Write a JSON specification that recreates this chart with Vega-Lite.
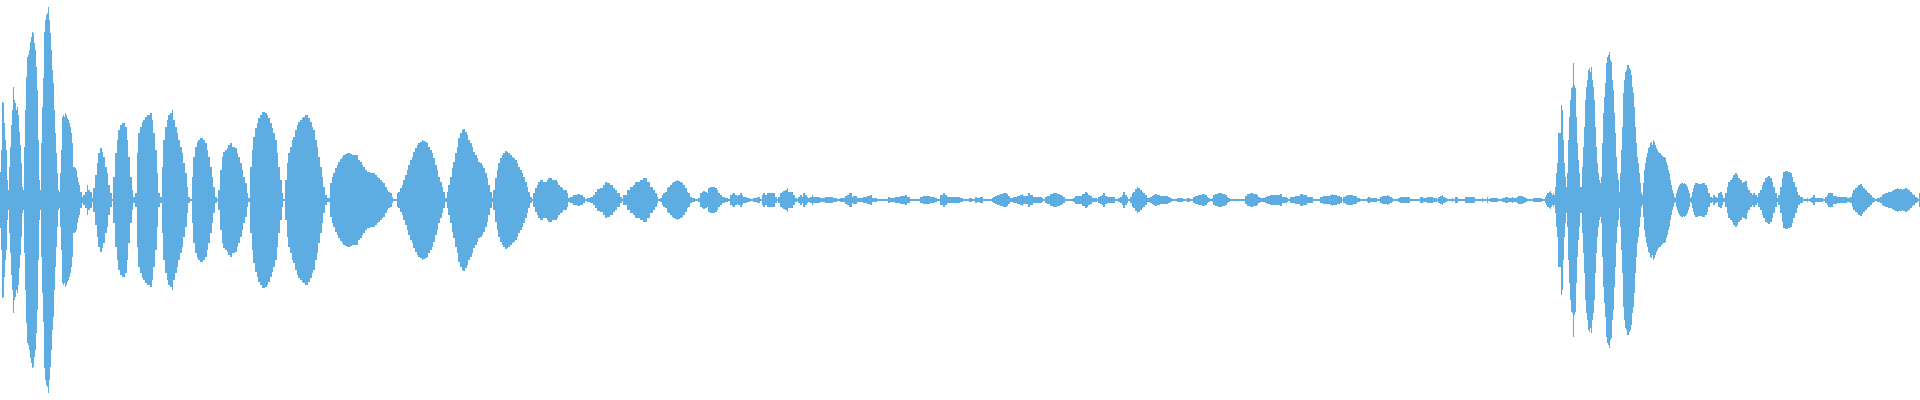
{
  "$schema": "https://vega.github.io/schema/vega-lite/v6.json",
  "width": 1920,
  "height": 400,
  "padding": 0,
  "autosize": {"type": "fit", "contains": "padding"},
  "background": "#ffffff",
  "config": {"view": {"stroke": null}},
  "data": {"values": [
{"x":0,"hi":28,"lo":-28},{"x":1,"hi":50,"lo":-50},{"x":2,"hi":98,"lo":-98},{"x":3,"hi":97,"lo":-97},{"x":4,"hi":77,"lo":-77},{"x":5,"hi":60,"lo":-60},{"x":6,"hi":50,"lo":-50},{"x":7,"hi":20,"lo":-20},{"x":8,"hi":10,"lo":-10},{"x":9,"hi":33,"lo":-33},
{"x":10,"hi":53,"lo":-53},{"x":11,"hi":75,"lo":-75},{"x":12,"hi":90,"lo":-90},{"x":13,"hi":113,"lo":-113},{"x":14,"hi":100,"lo":-100},{"x":15,"hi":97,"lo":-97},{"x":16,"hi":90,"lo":-90},{"x":17,"hi":93,"lo":-93},{"x":18,"hi":85,"lo":-85},{"x":19,"hi":68,"lo":-68},
{"x":20,"hi":55,"lo":-55},{"x":21,"hi":37,"lo":-37},{"x":22,"hi":13,"lo":-13},{"x":23,"hi":10,"lo":-10},{"x":24,"hi":53,"lo":-53},{"x":25,"hi":90,"lo":-90},{"x":26,"hi":123,"lo":-123},{"x":27,"hi":143,"lo":-143},{"x":28,"hi":145,"lo":-145},{"x":29,"hi":150,"lo":-150},
{"x":30,"hi":158,"lo":-158},{"x":31,"hi":163,"lo":-163},{"x":32,"hi":168,"lo":-168},{"x":33,"hi":167,"lo":-167},{"x":34,"hi":157,"lo":-157},{"x":35,"hi":150,"lo":-150},{"x":36,"hi":133,"lo":-133},{"x":37,"hi":110,"lo":-110},{"x":38,"hi":60,"lo":-60},{"x":39,"hi":20,"lo":-20},
{"x":40,"hi":10,"lo":-10},{"x":41,"hi":57,"lo":-57},{"x":42,"hi":93,"lo":-93},{"x":43,"hi":122,"lo":-122},{"x":44,"hi":168,"lo":-168},{"x":45,"hi":180,"lo":-180},{"x":46,"hi":185,"lo":-185},{"x":47,"hi":187,"lo":-187},{"x":48,"hi":193,"lo":-193},{"x":49,"hi":180,"lo":-180},
{"x":50,"hi":167,"lo":-167},{"x":51,"hi":150,"lo":-150},{"x":52,"hi":130,"lo":-130},{"x":53,"hi":117,"lo":-117},{"x":54,"hi":90,"lo":-90},{"x":55,"hi":67,"lo":-67},{"x":56,"hi":47,"lo":-47},{"x":57,"hi":27,"lo":-27},{"x":58,"hi":10,"lo":-10},{"x":59,"hi":8,"lo":-8},
{"x":60,"hi":27,"lo":-27},{"x":61,"hi":50,"lo":-50},{"x":62,"hi":83,"lo":-83},{"x":63,"hi":85,"lo":-85},{"x":64,"hi":83,"lo":-83},{"x":65,"hi":87,"lo":-87},{"x":66,"hi":85,"lo":-85},{"x":67,"hi":82,"lo":-82},{"x":68,"hi":80,"lo":-80},{"x":69,"hi":77,"lo":-77},
{"x":70,"hi":73,"lo":-73},{"x":71,"hi":67,"lo":-67},{"x":72,"hi":57,"lo":-57},{"x":73,"hi":33,"lo":-33},{"x":74,"hi":33,"lo":-33},{"x":75,"hi":32,"lo":-32},{"x":76,"hi":30,"lo":-30},{"x":77,"hi":23,"lo":-23},{"x":78,"hi":18,"lo":-18},{"x":79,"hi":15,"lo":-15},
{"x":80,"hi":8,"lo":-8},{"x":82,"hi":3,"lo":-3},{"x":83,"hi":5,"lo":-5},{"x":85,"hi":8,"lo":-8},{"x":87,"hi":15,"lo":-15},{"x":88,"hi":10,"lo":-10},{"x":90,"hi":8,"lo":-8},{"x":92,"hi":2,"lo":-2},{"x":93,"hi":12,"lo":-12},{"x":95,"hi":25,"lo":-25},
{"x":97,"hi":37,"lo":-37},{"x":98,"hi":47,"lo":-47},{"x":100,"hi":52,"lo":-52},{"x":102,"hi":48,"lo":-48},{"x":103,"hi":43,"lo":-43},{"x":105,"hi":33,"lo":-33},{"x":107,"hi":27,"lo":-27},{"x":108,"hi":15,"lo":-15},{"x":110,"hi":7,"lo":-7},{"x":112,"hi":1,"lo":-1},
{"x":113,"hi":23,"lo":-23},{"x":115,"hi":47,"lo":-47},{"x":117,"hi":60,"lo":-60},{"x":118,"hi":70,"lo":-70},{"x":120,"hi":75,"lo":-75},{"x":122,"hi":77,"lo":-77},{"x":123,"hi":77,"lo":-77},{"x":125,"hi":73,"lo":-73},{"x":127,"hi":60,"lo":-60},{"x":128,"hi":43,"lo":-43},
{"x":130,"hi":23,"lo":-23},{"x":132,"hi":10,"lo":-10},{"x":133,"hi":3,"lo":-3},{"x":135,"hi":7,"lo":-7},{"x":137,"hi":47,"lo":-47},{"x":138,"hi":67,"lo":-67},{"x":140,"hi":73,"lo":-73},{"x":142,"hi":78,"lo":-78},{"x":143,"hi":80,"lo":-80},{"x":145,"hi":83,"lo":-83},
{"x":147,"hi":85,"lo":-85},{"x":148,"hi":85,"lo":-85},{"x":150,"hi":87,"lo":-87},{"x":152,"hi":80,"lo":-80},{"x":153,"hi":67,"lo":-67},{"x":155,"hi":50,"lo":-50},{"x":157,"hi":27,"lo":-27},{"x":158,"hi":7,"lo":-7},{"x":160,"hi":3,"lo":-3},{"x":162,"hi":33,"lo":-33},
{"x":163,"hi":60,"lo":-60},{"x":165,"hi":73,"lo":-73},{"x":167,"hi":80,"lo":-80},{"x":168,"hi":85,"lo":-85},{"x":170,"hi":87,"lo":-87},{"x":172,"hi":90,"lo":-90},{"x":173,"hi":80,"lo":-80},{"x":175,"hi":73,"lo":-73},{"x":177,"hi":67,"lo":-67},{"x":178,"hi":60,"lo":-60},
{"x":180,"hi":53,"lo":-53},{"x":182,"hi":47,"lo":-47},{"x":183,"hi":37,"lo":-37},{"x":185,"hi":27,"lo":-27},{"x":187,"hi":13,"lo":-13},{"x":188,"hi":3,"lo":-3},{"x":190,"hi":1,"lo":-1},{"x":192,"hi":23,"lo":-23},{"x":193,"hi":43,"lo":-43},{"x":195,"hi":53,"lo":-53},
{"x":197,"hi":58,"lo":-58},{"x":198,"hi":60,"lo":-60},{"x":200,"hi":62,"lo":-62},{"x":202,"hi":62,"lo":-62},{"x":203,"hi":60,"lo":-60},{"x":205,"hi":57,"lo":-57},{"x":207,"hi":50,"lo":-50},{"x":208,"hi":43,"lo":-43},{"x":210,"hi":33,"lo":-33},{"x":212,"hi":23,"lo":-23},
{"x":213,"hi":13,"lo":-13},{"x":215,"hi":3,"lo":-3},{"x":217,"hi":1,"lo":-1},{"x":218,"hi":10,"lo":-10},{"x":220,"hi":30,"lo":-30},{"x":222,"hi":43,"lo":-43},{"x":223,"hi":48,"lo":-48},{"x":225,"hi":50,"lo":-50},{"x":227,"hi":52,"lo":-52},{"x":228,"hi":55,"lo":-55},
{"x":230,"hi":57,"lo":-57},{"x":232,"hi":53,"lo":-53},{"x":233,"hi":53,"lo":-53},{"x":235,"hi":52,"lo":-52},{"x":237,"hi":47,"lo":-47},{"x":238,"hi":43,"lo":-43},{"x":240,"hi":37,"lo":-37},{"x":242,"hi":30,"lo":-30},{"x":243,"hi":23,"lo":-23},{"x":245,"hi":17,"lo":-17},
{"x":247,"hi":7,"lo":-7},{"x":248,"hi":2,"lo":-2},{"x":250,"hi":33,"lo":-33},{"x":252,"hi":50,"lo":-50},{"x":253,"hi":63,"lo":-63},{"x":255,"hi":72,"lo":-72},{"x":257,"hi":77,"lo":-77},{"x":258,"hi":82,"lo":-82},{"x":260,"hi":85,"lo":-85},{"x":262,"hi":88,"lo":-88},
{"x":263,"hi":88,"lo":-88},{"x":265,"hi":87,"lo":-87},{"x":267,"hi":85,"lo":-85},{"x":268,"hi":82,"lo":-82},{"x":270,"hi":77,"lo":-77},{"x":272,"hi":72,"lo":-72},{"x":273,"hi":67,"lo":-67},{"x":275,"hi":60,"lo":-60},{"x":277,"hi":47,"lo":-47},{"x":278,"hi":33,"lo":-33},
{"x":280,"hi":20,"lo":-20},{"x":282,"hi":7,"lo":-7},{"x":283,"hi":1,"lo":-1},{"x":285,"hi":20,"lo":-20},{"x":287,"hi":37,"lo":-37},{"x":288,"hi":47,"lo":-47},{"x":290,"hi":53,"lo":-53},{"x":292,"hi":60,"lo":-60},{"x":293,"hi":63,"lo":-63},{"x":295,"hi":70,"lo":-70},
{"x":297,"hi":75,"lo":-75},{"x":298,"hi":78,"lo":-78},{"x":300,"hi":80,"lo":-80},{"x":302,"hi":82,"lo":-82},{"x":303,"hi":83,"lo":-83},{"x":305,"hi":85,"lo":-85},{"x":307,"hi":85,"lo":-85},{"x":308,"hi":82,"lo":-82},{"x":310,"hi":78,"lo":-78},{"x":312,"hi":73,"lo":-73},
{"x":313,"hi":70,"lo":-70},{"x":315,"hi":60,"lo":-60},{"x":317,"hi":53,"lo":-53},{"x":318,"hi":43,"lo":-43},
{"x":320,"hi":33,"lo":-33},{"x":322,"hi":23,"lo":-23},{"x":323,"hi":13,"lo":-13},{"x":325,"hi":5,"lo":-5},{"x":327,"hi":2,"lo":-2},{"x":328,"hi":2,"lo":-2},{"x":330,"hi":17,"lo":-17},{"x":332,"hi":23,"lo":-23},{"x":333,"hi":27,"lo":-27},{"x":335,"hi":32,"lo":-32},
{"x":337,"hi":35,"lo":-35},{"x":338,"hi":38,"lo":-38},{"x":340,"hi":41,"lo":-41},{"x":342,"hi":43,"lo":-43},{"x":343,"hi":45,"lo":-45},{"x":345,"hi":46,"lo":-46},{"x":347,"hi":47,"lo":-47},{"x":348,"hi":47,"lo":-47},{"x":350,"hi":46,"lo":-46},{"x":352,"hi":45,"lo":-45},
{"x":353,"hi":45,"lo":-45},{"x":355,"hi":45,"lo":-45},{"x":357,"hi":45,"lo":-45},{"x":358,"hi":40,"lo":-40},{"x":360,"hi":38,"lo":-38},{"x":362,"hi":35,"lo":-35},{"x":363,"hi":33,"lo":-33},{"x":365,"hi":30,"lo":-30},{"x":367,"hi":28,"lo":-28},{"x":368,"hi":28,"lo":-28},
{"x":370,"hi":27,"lo":-27},{"x":372,"hi":27,"lo":-27},{"x":373,"hi":27,"lo":-27},{"x":375,"hi":25,"lo":-25},{"x":377,"hi":23,"lo":-23},{"x":378,"hi":22,"lo":-22},{"x":380,"hi":20,"lo":-20},{"x":382,"hi":18,"lo":-18},{"x":383,"hi":17,"lo":-17},{"x":385,"hi":13,"lo":-13},
{"x":387,"hi":10,"lo":-10},{"x":388,"hi":8,"lo":-8},{"x":390,"hi":7,"lo":-7},{"x":392,"hi":3,"lo":-3},{"x":393,"hi":1,"lo":-1},{"x":395,"hi":1,"lo":-1},{"x":397,"hi":7,"lo":-7},{"x":398,"hi":8,"lo":-8},{"x":400,"hi":12,"lo":-12},{"x":402,"hi":15,"lo":-15},
{"x":403,"hi":20,"lo":-20},{"x":405,"hi":25,"lo":-25},{"x":407,"hi":30,"lo":-30},{"x":408,"hi":35,"lo":-35},{"x":410,"hi":40,"lo":-40},{"x":412,"hi":43,"lo":-43},{"x":413,"hi":48,"lo":-48},{"x":415,"hi":52,"lo":-52},{"x":417,"hi":55,"lo":-55},{"x":418,"hi":57,"lo":-57},
{"x":420,"hi":58,"lo":-58},{"x":422,"hi":60,"lo":-60},{"x":423,"hi":59,"lo":-59},{"x":425,"hi":58,"lo":-58},{"x":427,"hi":57,"lo":-57},{"x":428,"hi":53,"lo":-53},{"x":430,"hi":50,"lo":-50},{"x":432,"hi":47,"lo":-47},{"x":433,"hi":42,"lo":-42},{"x":435,"hi":35,"lo":-35},
{"x":437,"hi":30,"lo":-30},{"x":438,"hi":23,"lo":-23},{"x":440,"hi":18,"lo":-18},{"x":442,"hi":13,"lo":-13},{"x":443,"hi":8,"lo":-8},{"x":445,"hi":2,"lo":-2},{"x":447,"hi":8,"lo":-8},{"x":448,"hi":15,"lo":-15},{"x":450,"hi":23,"lo":-23},{"x":452,"hi":32,"lo":-32},
{"x":453,"hi":38,"lo":-38},{"x":455,"hi":47,"lo":-47},{"x":457,"hi":53,"lo":-53},{"x":458,"hi":62,"lo":-62},{"x":460,"hi":67,"lo":-67},{"x":462,"hi":70,"lo":-70},{"x":463,"hi":71,"lo":-71},{"x":465,"hi":68,"lo":-68},{"x":467,"hi":65,"lo":-65},{"x":468,"hi":60,"lo":-60},
{"x":470,"hi":57,"lo":-57},{"x":472,"hi":53,"lo":-53},{"x":473,"hi":48,"lo":-48},{"x":475,"hi":45,"lo":-45},{"x":477,"hi":42,"lo":-42},{"x":478,"hi":38,"lo":-38},{"x":480,"hi":37,"lo":-37},{"x":482,"hi":35,"lo":-35},{"x":483,"hi":32,"lo":-32},{"x":485,"hi":27,"lo":-27},
{"x":487,"hi":22,"lo":-22},{"x":488,"hi":15,"lo":-15},{"x":490,"hi":8,"lo":-8},{"x":492,"hi":2,"lo":-2},{"x":493,"hi":10,"lo":-10},{"x":495,"hi":22,"lo":-22},{"x":497,"hi":30,"lo":-30},{"x":498,"hi":37,"lo":-37},{"x":500,"hi":42,"lo":-42},{"x":502,"hi":45,"lo":-45},
{"x":503,"hi":47,"lo":-47},{"x":505,"hi":49,"lo":-49},{"x":507,"hi":48,"lo":-48},{"x":508,"hi":47,"lo":-47},{"x":510,"hi":45,"lo":-45},{"x":512,"hi":43,"lo":-43},{"x":513,"hi":42,"lo":-42},{"x":515,"hi":40,"lo":-40},{"x":517,"hi":37,"lo":-37},{"x":518,"hi":33,"lo":-33},
{"x":520,"hi":30,"lo":-30},{"x":522,"hi":27,"lo":-27},{"x":523,"hi":23,"lo":-23},{"x":525,"hi":18,"lo":-18},{"x":527,"hi":13,"lo":-13},{"x":528,"hi":8,"lo":-8},{"x":530,"hi":3,"lo":-3},{"x":532,"hi":1,"lo":-1},{"x":533,"hi":7,"lo":-7},{"x":535,"hi":12,"lo":-12},
{"x":537,"hi":15,"lo":-15},{"x":538,"hi":18,"lo":-18},{"x":540,"hi":20,"lo":-20},{"x":542,"hi":20,"lo":-20},{"x":543,"hi":18,"lo":-18},{"x":545,"hi":18,"lo":-18},{"x":547,"hi":20,"lo":-20},{"x":548,"hi":22,"lo":-22},{"x":550,"hi":22,"lo":-22},{"x":552,"hi":20,"lo":-20},
{"x":553,"hi":20,"lo":-20},{"x":555,"hi":20,"lo":-20},{"x":557,"hi":18,"lo":-18},{"x":558,"hi":15,"lo":-15},{"x":560,"hi":13,"lo":-13},{"x":562,"hi":12,"lo":-12},{"x":563,"hi":10,"lo":-10},{"x":565,"hi":10,"lo":-10},{"x":567,"hi":7,"lo":-7},{"x":568,"hi":2,"lo":-2},
{"x":570,"hi":3,"lo":-3},{"x":573,"hi":5,"lo":-5},{"x":577,"hi":6,"lo":-6},{"x":580,"hi":5,"lo":-5},{"x":583,"hi":3,"lo":-3},{"x":585,"hi":1,"lo":-1},{"x":587,"hi":2,"lo":-2},{"x":590,"hi":3,"lo":-3},{"x":593,"hi":5,"lo":-5},{"x":595,"hi":8,"lo":-8},
{"x":597,"hi":11,"lo":-11},{"x":600,"hi":12,"lo":-12},{"x":603,"hi":15,"lo":-15},{"x":605,"hi":18,"lo":-18},{"x":607,"hi":17,"lo":-17},{"x":610,"hi":15,"lo":-15},{"x":613,"hi":12,"lo":-12},{"x":615,"hi":10,"lo":-10},{"x":617,"hi":7,"lo":-7},{"x":620,"hi":3,"lo":-3},
{"x":622,"hi":1,"lo":-1},{"x":623,"hi":5,"lo":-5},{"x":627,"hi":10,"lo":-10},{"x":630,"hi":13,"lo":-13},{"x":633,"hi":15,"lo":-15},{"x":635,"hi":18,"lo":-18},{"x":638,"hi":18,"lo":-18},
{"x":640,"hi":20,"lo":-20},{"x":643,"hi":22,"lo":-22},{"x":647,"hi":18,"lo":-18},{"x":650,"hi":13,"lo":-13},{"x":653,"hi":10,"lo":-10},{"x":655,"hi":7,"lo":-7},{"x":657,"hi":3,"lo":-3},{"x":658,"hi":1,"lo":-1},{"x":660,"hi":2,"lo":-2},{"x":662,"hi":5,"lo":-5},
{"x":663,"hi":7,"lo":-7},{"x":665,"hi":8,"lo":-8},{"x":667,"hi":12,"lo":-12},{"x":668,"hi":13,"lo":-13},{"x":670,"hi":15,"lo":-15},{"x":672,"hi":17,"lo":-17},{"x":673,"hi":18,"lo":-18},{"x":675,"hi":19,"lo":-19},{"x":677,"hi":20,"lo":-20},{"x":678,"hi":19,"lo":-19},
{"x":680,"hi":18,"lo":-18},{"x":682,"hi":17,"lo":-17},{"x":683,"hi":15,"lo":-15},{"x":685,"hi":12,"lo":-12},{"x":687,"hi":8,"lo":-8},{"x":688,"hi":7,"lo":-7},{"x":690,"hi":3,"lo":-3},{"x":692,"hi":2,"lo":-2},{"x":695,"hi":1,"lo":-1},{"x":697,"hi":1,"lo":-1},
{"x":698,"hi":2,"lo":-2},{"x":700,"hi":7,"lo":-7},{"x":702,"hi":8,"lo":-8},{"x":703,"hi":9,"lo":-9},{"x":705,"hi":8,"lo":-8},{"x":707,"hi":7,"lo":-7},{"x":708,"hi":12,"lo":-12},{"x":710,"hi":13,"lo":-13},{"x":713,"hi":13,"lo":-13},{"x":715,"hi":12,"lo":-12},
{"x":717,"hi":10,"lo":-10},{"x":718,"hi":7,"lo":-7},{"x":720,"hi":5,"lo":-5},{"x":722,"hi":3,"lo":-3},{"x":725,"hi":2,"lo":-2},{"x":728,"hi":1,"lo":-1},{"x":730,"hi":5,"lo":-5},{"x":732,"hi":6,"lo":-6},{"x":733,"hi":7,"lo":-7},{"x":735,"hi":5,"lo":-5},
{"x":737,"hi":4,"lo":-4},{"x":738,"hi":5,"lo":-5},{"x":740,"hi":7,"lo":-7},{"x":742,"hi":5,"lo":-5},{"x":743,"hi":3,"lo":-3},{"x":747,"hi":2,"lo":-2},{"x":750,"hi":1,"lo":-1},{"x":753,"hi":2,"lo":-2},{"x":757,"hi":3,"lo":-3},{"x":760,"hi":1,"lo":-1},
{"x":762,"hi":5,"lo":-5},{"x":763,"hi":7,"lo":-7},{"x":765,"hi":5,"lo":-5},{"x":767,"hi":7,"lo":-7},{"x":770,"hi":7,"lo":-7},{"x":773,"hi":7,"lo":-7},{"x":775,"hi":3,"lo":-3},{"x":777,"hi":1,"lo":-1},{"x":778,"hi":3,"lo":-3},{"x":780,"hi":7,"lo":-7},
{"x":782,"hi":8,"lo":-8},{"x":783,"hi":9,"lo":-9},{"x":785,"hi":10,"lo":-10},{"x":787,"hi":12,"lo":-12},{"x":788,"hi":8,"lo":-8},{"x":792,"hi":8,"lo":-8},{"x":793,"hi":5,"lo":-5},{"x":795,"hi":2,"lo":-2},{"x":797,"hi":1,"lo":-1},{"x":798,"hi":3,"lo":-3},
{"x":800,"hi":5,"lo":-5},{"x":802,"hi":3,"lo":-3},{"x":803,"hi":7,"lo":-7},{"x":805,"hi":5,"lo":-5},{"x":807,"hi":3,"lo":-3},{"x":808,"hi":2,"lo":-2},{"x":810,"hi":3,"lo":-3},{"x":812,"hi":5,"lo":-5},{"x":813,"hi":3,"lo":-3},{"x":820,"hi":2,"lo":-2},
{"x":825,"hi":3,"lo":-3},{"x":830,"hi":3,"lo":-3},{"x":833,"hi":2,"lo":-2},{"x":837,"hi":1,"lo":-1},{"x":840,"hi":2,"lo":-2},{"x":845,"hi":4,"lo":-4},{"x":847,"hi":5,"lo":-5},{"x":849,"hi":7,"lo":-7},{"x":852,"hi":3,"lo":-3},{"x":853,"hi":4,"lo":-4},
{"x":857,"hi":2,"lo":-2},{"x":860,"hi":2,"lo":-2},{"x":863,"hi":3,"lo":-3},{"x":867,"hi":4,"lo":-4},{"x":870,"hi":5,"lo":-5},{"x":872,"hi":2,"lo":-2},{"x":877,"hi":1,"lo":-1},{"x":883,"hi":1,"lo":-1},{"x":888,"hi":3,"lo":-3},{"x":890,"hi":2,"lo":-2},
{"x":895,"hi":3,"lo":-3},{"x":900,"hi":4,"lo":-4},{"x":905,"hi":5,"lo":-5},{"x":907,"hi":3,"lo":-3},{"x":910,"hi":1,"lo":-1},{"x":915,"hi":1,"lo":-1},{"x":920,"hi":3,"lo":-3},{"x":923,"hi":4,"lo":-4},{"x":927,"hi":4,"lo":-4},{"x":930,"hi":3,"lo":-3},
{"x":935,"hi":2,"lo":-2},{"x":937,"hi":1,"lo":-1},{"x":940,"hi":5,"lo":-5},{"x":943,"hi":7,"lo":-7},{"x":945,"hi":5,"lo":-5},{"x":947,"hi":3,"lo":-3},{"x":953,"hi":3,"lo":-3},{"x":960,"hi":2,"lo":-2},
{"x":963,"hi":1,"lo":-1},{"x":969,"hi":2,"lo":-2},{"x":972,"hi":1,"lo":-1},{"x":975,"hi":3,"lo":-3},{"x":977,"hi":2,"lo":-2},{"x":980,"hi":3,"lo":-3},{"x":983,"hi":1,"lo":-1},{"x":990,"hi":1,"lo":-1},{"x":992,"hi":2,"lo":-2},{"x":993,"hi":3,"lo":-3},
{"x":995,"hi":4,"lo":-4},{"x":997,"hi":5,"lo":-5},{"x":1000,"hi":6,"lo":-6},{"x":1003,"hi":7,"lo":-7},{"x":1005,"hi":7,"lo":-7},{"x":1007,"hi":6,"lo":-6},{"x":1008,"hi":4,"lo":-4},{"x":1010,"hi":2,"lo":-2},{"x":1012,"hi":2,"lo":-2},{"x":1013,"hi":3,"lo":-3},
{"x":1017,"hi":4,"lo":-4},{"x":1020,"hi":5,"lo":-5},{"x":1022,"hi":6,"lo":-6},{"x":1023,"hi":4,"lo":-4},{"x":1027,"hi":4,"lo":-4},{"x":1028,"hi":7,"lo":-7},{"x":1030,"hi":5,"lo":-5},{"x":1033,"hi":3,"lo":-3},{"x":1037,"hi":3,"lo":-3},{"x":1040,"hi":3,"lo":-3},
{"x":1042,"hi":2,"lo":-2},{"x":1043,"hi":1,"lo":-1},{"x":1045,"hi":3,"lo":-3},{"x":1047,"hi":4,"lo":-4},{"x":1050,"hi":6,"lo":-6},{"x":1053,"hi":7,"lo":-7},{"x":1057,"hi":6,"lo":-6},{"x":1060,"hi":5,"lo":-5},{"x":1062,"hi":4,"lo":-4},{"x":1063,"hi":3,"lo":-3},
{"x":1065,"hi":1,"lo":-1},{"x":1070,"hi":1,"lo":-1},{"x":1073,"hi":2,"lo":-2},{"x":1075,"hi":4,"lo":-4},{"x":1078,"hi":4,"lo":-4},{"x":1082,"hi":6,"lo":-6},{"x":1085,"hi":8,"lo":-8},{"x":1087,"hi":7,"lo":-7},{"x":1088,"hi":5,"lo":-5},{"x":1090,"hi":4,"lo":-4},
{"x":1092,"hi":2,"lo":-2},{"x":1095,"hi":2,"lo":-2},{"x":1097,"hi":1,"lo":-1},{"x":1098,"hi":3,"lo":-3},{"x":1100,"hi":4,"lo":-4},{"x":1102,"hi":5,"lo":-5},{"x":1103,"hi":7,"lo":-7},{"x":1105,"hi":4,"lo":-4},{"x":1107,"hi":3,"lo":-3},{"x":1113,"hi":3,"lo":-3},
{"x":1115,"hi":1,"lo":-1},{"x":1117,"hi":1,"lo":-1},{"x":1118,"hi":2,"lo":-2},{"x":1120,"hi":3,"lo":-3},{"x":1122,"hi":5,"lo":-5},{"x":1123,"hi":8,"lo":-8},{"x":1125,"hi":5,"lo":-5},{"x":1127,"hi":3,"lo":-3},{"x":1128,"hi":1,"lo":-1},{"x":1130,"hi":3,"lo":-3},
{"x":1132,"hi":7,"lo":-7},{"x":1133,"hi":8,"lo":-8},{"x":1135,"hi":11,"lo":-11},{"x":1137,"hi":13,"lo":-13},{"x":1138,"hi":12,"lo":-12},{"x":1140,"hi":10,"lo":-10},{"x":1142,"hi":8,"lo":-8},{"x":1143,"hi":7,"lo":-7},{"x":1145,"hi":5,"lo":-5},{"x":1147,"hi":2,"lo":-2},
{"x":1150,"hi":3,"lo":-3},{"x":1152,"hi":4,"lo":-4},{"x":1153,"hi":5,"lo":-5},{"x":1155,"hi":6,"lo":-6},{"x":1157,"hi":5,"lo":-5},{"x":1160,"hi":4,"lo":-4},{"x":1167,"hi":4,"lo":-4},{"x":1168,"hi":3,"lo":-3},{"x":1170,"hi":2,"lo":-2},{"x":1172,"hi":1,"lo":-1},
{"x":1177,"hi":2,"lo":-2},{"x":1183,"hi":1,"lo":-1},{"x":1187,"hi":2,"lo":-2},{"x":1190,"hi":1,"lo":-1},{"x":1193,"hi":3,"lo":-3},{"x":1195,"hi":4,"lo":-4},{"x":1198,"hi":5,"lo":-5},{"x":1202,"hi":6,"lo":-6},{"x":1205,"hi":5,"lo":-5},{"x":1207,"hi":3,"lo":-3},
{"x":1208,"hi":2,"lo":-2},{"x":1210,"hi":1,"lo":-1},{"x":1212,"hi":2,"lo":-2},{"x":1213,"hi":5,"lo":-5},{"x":1215,"hi":6,"lo":-6},{"x":1218,"hi":7,"lo":-7},{"x":1222,"hi":6,"lo":-6},{"x":1225,"hi":5,"lo":-5},{"x":1227,"hi":3,"lo":-3},{"x":1228,"hi":2,"lo":-2},
{"x":1230,"hi":1,"lo":-1},{"x":1243,"hi":1,"lo":-1},{"x":1245,"hi":4,"lo":-4},{"x":1247,"hi":6,"lo":-6},{"x":1250,"hi":7,"lo":-7},{"x":1253,"hi":6,"lo":-6},{"x":1257,"hi":5,"lo":-5},{"x":1258,"hi":3,"lo":-3},{"x":1260,"hi":2,"lo":-2},{"x":1263,"hi":2,"lo":-2},
{"x":1265,"hi":3,"lo":-3},{"x":1267,"hi":4,"lo":-4},{"x":1270,"hi":5,"lo":-5},{"x":1277,"hi":5,"lo":-5},
{"x":1280,"hi":6,"lo":-6},{"x":1282,"hi":3,"lo":-3},{"x":1285,"hi":3,"lo":-3},{"x":1287,"hi":2,"lo":-2},{"x":1288,"hi":1,"lo":-1},{"x":1290,"hi":3,"lo":-3},{"x":1295,"hi":4,"lo":-4},{"x":1298,"hi":4,"lo":-4},{"x":1300,"hi":6,"lo":-6},{"x":1302,"hi":6,"lo":-6},
{"x":1303,"hi":5,"lo":-5},{"x":1307,"hi":3,"lo":-3},{"x":1310,"hi":3,"lo":-3},{"x":1313,"hi":1,"lo":-1},{"x":1317,"hi":1,"lo":-1},{"x":1320,"hi":3,"lo":-3},{"x":1323,"hi":4,"lo":-4},{"x":1327,"hi":4,"lo":-4},{"x":1330,"hi":5,"lo":-5},{"x":1332,"hi":6,"lo":-6},
{"x":1333,"hi":5,"lo":-5},{"x":1337,"hi":4,"lo":-4},{"x":1340,"hi":3,"lo":-3},{"x":1342,"hi":1,"lo":-1},{"x":1343,"hi":3,"lo":-3},{"x":1345,"hi":4,"lo":-4},{"x":1347,"hi":5,"lo":-5},{"x":1350,"hi":5,"lo":-5},{"x":1353,"hi":4,"lo":-4},{"x":1355,"hi":4,"lo":-4},
{"x":1357,"hi":2,"lo":-2},{"x":1360,"hi":1,"lo":-1},{"x":1363,"hi":1,"lo":-1},{"x":1367,"hi":2,"lo":-2},{"x":1368,"hi":3,"lo":-3},{"x":1370,"hi":2,"lo":-2},{"x":1373,"hi":2,"lo":-2},{"x":1377,"hi":1,"lo":-1},{"x":1380,"hi":3,"lo":-3},{"x":1382,"hi":4,"lo":-4},
{"x":1383,"hi":4,"lo":-4},{"x":1387,"hi":5,"lo":-5},{"x":1388,"hi":4,"lo":-4},{"x":1390,"hi":3,"lo":-3},{"x":1392,"hi":2,"lo":-2},{"x":1393,"hi":1,"lo":-1},{"x":1397,"hi":1,"lo":-1},{"x":1398,"hi":2,"lo":-2},{"x":1400,"hi":3,"lo":-3},{"x":1403,"hi":3,"lo":-3},
{"x":1407,"hi":3,"lo":-3},{"x":1410,"hi":1,"lo":-1},{"x":1417,"hi":1,"lo":-1},{"x":1420,"hi":3,"lo":-3},{"x":1423,"hi":2,"lo":-2},{"x":1427,"hi":3,"lo":-3},{"x":1430,"hi":3,"lo":-3},{"x":1433,"hi":2,"lo":-2},{"x":1437,"hi":1,"lo":-1},{"x":1438,"hi":3,"lo":-3},
{"x":1440,"hi":4,"lo":-4},{"x":1442,"hi":5,"lo":-5},{"x":1443,"hi":3,"lo":-3},{"x":1445,"hi":2,"lo":-2},{"x":1447,"hi":1,"lo":-1},{"x":1450,"hi":1,"lo":-1},{"x":1452,"hi":2,"lo":-2},{"x":1453,"hi":1,"lo":-1},{"x":1455,"hi":3,"lo":-3},{"x":1458,"hi":1,"lo":-1},
{"x":1462,"hi":1,"lo":-1},{"x":1465,"hi":3,"lo":-3},{"x":1470,"hi":3,"lo":-3},{"x":1473,"hi":3,"lo":-3},{"x":1475,"hi":1,"lo":-1},{"x":1480,"hi":1,"lo":-1},{"x":1482,"hi":2,"lo":-2},{"x":1483,"hi":1,"lo":-1},{"x":1487,"hi":3,"lo":-3},{"x":1488,"hi":1,"lo":-1},
{"x":1490,"hi":2,"lo":-2},{"x":1498,"hi":1,"lo":-1},{"x":1502,"hi":2,"lo":-2},{"x":1505,"hi":3,"lo":-3},{"x":1508,"hi":2,"lo":-2},{"x":1512,"hi":3,"lo":-3},{"x":1513,"hi":2,"lo":-2},{"x":1517,"hi":3,"lo":-3},{"x":1518,"hi":4,"lo":-4},{"x":1520,"hi":4,"lo":-4},
{"x":1523,"hi":3,"lo":-3},{"x":1525,"hi":2,"lo":-2},{"x":1527,"hi":1,"lo":-1},{"x":1533,"hi":2,"lo":-2},{"x":1537,"hi":2,"lo":-2},
{"x":1540,"hi":2,"lo":-2},{"x":1541,"hi":2,"lo":-2},{"x":1542,"hi":1,"lo":-1},{"x":1544,"hi":1,"lo":-1},{"x":1545,"hi":3,"lo":-3},{"x":1546,"hi":5,"lo":-5},{"x":1547,"hi":7,"lo":-7},{"x":1548,"hi":7,"lo":-7},{"x":1549,"hi":8,"lo":-8},
{"x":1550,"hi":9,"lo":-9},{"x":1551,"hi":7,"lo":-7},{"x":1552,"hi":5,"lo":-5},{"x":1553,"hi":7,"lo":-7},{"x":1554,"hi":5,"lo":-5},{"x":1555,"hi":13,"lo":-13},{"x":1556,"hi":27,"lo":-27},{"x":1557,"hi":37,"lo":-37},{"x":1558,"hi":67,"lo":-67},{"x":1559,"hi":67,"lo":-67},
{"x":1560,"hi":67,"lo":-67},{"x":1561,"hi":95,"lo":-95},{"x":1562,"hi":90,"lo":-90},{"x":1563,"hi":60,"lo":-60},{"x":1564,"hi":37,"lo":-37},{"x":1565,"hi":23,"lo":-23},{"x":1566,"hi":13,"lo":-13},{"x":1567,"hi":27,"lo":-27},{"x":1568,"hi":60,"lo":-60},{"x":1569,"hi":83,"lo":-83},
{"x":1570,"hi":100,"lo":-100},{"x":1571,"hi":112,"lo":-112},{"x":1572,"hi":113,"lo":-113},{"x":1573,"hi":137,"lo":-137},{"x":1574,"hi":115,"lo":-115},{"x":1575,"hi":112,"lo":-112},{"x":1576,"hi":83,"lo":-83},{"x":1577,"hi":57,"lo":-57},{"x":1578,"hi":40,"lo":-40},{"x":1579,"hi":27,"lo":-27},
{"x":1580,"hi":13,"lo":-13},{"x":1581,"hi":13,"lo":-13},{"x":1582,"hi":33,"lo":-33},{"x":1583,"hi":53,"lo":-53},{"x":1584,"hi":73,"lo":-73},{"x":1585,"hi":100,"lo":-100},{"x":1586,"hi":113,"lo":-113},{"x":1587,"hi":120,"lo":-120},{"x":1588,"hi":130,"lo":-130},{"x":1589,"hi":132,"lo":-132},
{"x":1590,"hi":128,"lo":-128},{"x":1591,"hi":133,"lo":-133},{"x":1592,"hi":120,"lo":-120},{"x":1593,"hi":113,"lo":-113},{"x":1594,"hi":100,"lo":-100},{"x":1595,"hi":73,"lo":-73},{"x":1596,"hi":53,"lo":-53},{"x":1597,"hi":37,"lo":-37},{"x":1598,"hi":27,"lo":-27},{"x":1599,"hi":20,"lo":-20},
{"x":1600,"hi":17,"lo":-17},{"x":1601,"hi":23,"lo":-23},{"x":1602,"hi":57,"lo":-57},{"x":1603,"hi":87,"lo":-87},{"x":1604,"hi":103,"lo":-103},{"x":1605,"hi":117,"lo":-117},{"x":1606,"hi":137,"lo":-137},{"x":1607,"hi":143,"lo":-143},{"x":1608,"hi":145,"lo":-145},{"x":1609,"hi":148,"lo":-148},
{"x":1610,"hi":140,"lo":-140},{"x":1611,"hi":138,"lo":-138},{"x":1612,"hi":120,"lo":-120},{"x":1613,"hi":110,"lo":-110},{"x":1614,"hi":87,"lo":-87},{"x":1615,"hi":67,"lo":-67},{"x":1616,"hi":43,"lo":-43},{"x":1617,"hi":27,"lo":-27},{"x":1618,"hi":20,"lo":-20},{"x":1619,"hi":8,"lo":-8},
{"x":1620,"hi":27,"lo":-27},{"x":1621,"hi":50,"lo":-50},{"x":1622,"hi":73,"lo":-73},{"x":1623,"hi":107,"lo":-107},{"x":1624,"hi":120,"lo":-120},{"x":1625,"hi":128,"lo":-128},{"x":1626,"hi":130,"lo":-130},{"x":1627,"hi":135,"lo":-135},{"x":1628,"hi":135,"lo":-135},{"x":1629,"hi":132,"lo":-132},
{"x":1630,"hi":130,"lo":-130},{"x":1631,"hi":125,"lo":-125},{"x":1632,"hi":113,"lo":-113},{"x":1633,"hi":107,"lo":-107},{"x":1634,"hi":93,"lo":-93},{"x":1635,"hi":73,"lo":-73},{"x":1636,"hi":57,"lo":-57},{"x":1637,"hi":43,"lo":-43},{"x":1638,"hi":37,"lo":-37},{"x":1639,"hi":27,"lo":-27},
{"x":1640,"hi":17,"lo":-17},{"x":1641,"hi":7,"lo":-7},{"x":1642,"hi":5,"lo":-5},{"x":1643,"hi":17,"lo":-17},{"x":1644,"hi":30,"lo":-30},{"x":1645,"hi":37,"lo":-37},{"x":1646,"hi":43,"lo":-43},{"x":1647,"hi":47,"lo":-47},{"x":1648,"hi":52,"lo":-52},{"x":1649,"hi":53,"lo":-53},
{"x":1650,"hi":57,"lo":-57},{"x":1651,"hi":58,"lo":-58},{"x":1652,"hi":55,"lo":-55},{"x":1653,"hi":60,"lo":-60},{"x":1654,"hi":58,"lo":-58},{"x":1655,"hi":55,"lo":-55},{"x":1656,"hi":52,"lo":-52},{"x":1657,"hi":50,"lo":-50},{"x":1658,"hi":48,"lo":-48},{"x":1659,"hi":47,"lo":-47},
{"x":1660,"hi":47,"lo":-47},{"x":1661,"hi":45,"lo":-45},{"x":1662,"hi":44,"lo":-44},{"x":1663,"hi":43,"lo":-43},{"x":1664,"hi":43,"lo":-43},{"x":1665,"hi":42,"lo":-42},{"x":1666,"hi":38,"lo":-38},{"x":1667,"hi":35,"lo":-35},{"x":1668,"hi":30,"lo":-30},{"x":1669,"hi":27,"lo":-27},
{"x":1670,"hi":20,"lo":-20},{"x":1671,"hi":15,"lo":-15},{"x":1672,"hi":10,"lo":-10},{"x":1673,"hi":7,"lo":-7},{"x":1674,"hi":3,"lo":-3},{"x":1675,"hi":2,"lo":-2},{"x":1676,"hi":7,"lo":-7},{"x":1677,"hi":10,"lo":-10},{"x":1678,"hi":13,"lo":-13},{"x":1679,"hi":15,"lo":-15},
{"x":1680,"hi":16,"lo":-16},{"x":1681,"hi":17,"lo":-17},{"x":1682,"hi":17,"lo":-17},{"x":1683,"hi":16,"lo":-16},{"x":1684,"hi":17,"lo":-17},{"x":1685,"hi":16,"lo":-16},{"x":1686,"hi":15,"lo":-15},{"x":1687,"hi":13,"lo":-13},{"x":1688,"hi":10,"lo":-10},{"x":1689,"hi":7,"lo":-7},
{"x":1690,"hi":2,"lo":-2},{"x":1691,"hi":3,"lo":-3},{"x":1692,"hi":8,"lo":-8},{"x":1693,"hi":12,"lo":-12},{"x":1694,"hi":15,"lo":-15},{"x":1695,"hi":17,"lo":-17},{"x":1696,"hi":17,"lo":-17},{"x":1697,"hi":17,"lo":-17},{"x":1698,"hi":16,"lo":-16},{"x":1699,"hi":16,"lo":-16},
{"x":1700,"hi":16,"lo":-16},{"x":1702,"hi":17,"lo":-17},{"x":1703,"hi":17,"lo":-17},{"x":1705,"hi":15,"lo":-15},{"x":1707,"hi":12,"lo":-12},{"x":1708,"hi":7,"lo":-7},{"x":1710,"hi":3,"lo":-3},{"x":1712,"hi":2,"lo":-2},{"x":1713,"hi":5,"lo":-5},{"x":1715,"hi":3,"lo":-3},
{"x":1717,"hi":2,"lo":-2},{"x":1718,"hi":7,"lo":-7},{"x":1720,"hi":8,"lo":-8},{"x":1722,"hi":5,"lo":-5},{"x":1723,"hi":2,"lo":-2},{"x":1725,"hi":7,"lo":-7},{"x":1727,"hi":13,"lo":-13},{"x":1728,"hi":18,"lo":-18},{"x":1730,"hi":20,"lo":-20},{"x":1732,"hi":22,"lo":-22},
{"x":1733,"hi":25,"lo":-25},{"x":1735,"hi":27,"lo":-27},{"x":1737,"hi":25,"lo":-25},{"x":1738,"hi":22,"lo":-22},{"x":1740,"hi":20,"lo":-20},{"x":1742,"hi":17,"lo":-17},{"x":1743,"hi":18,"lo":-18},{"x":1745,"hi":19,"lo":-19},{"x":1747,"hi":13,"lo":-13},{"x":1748,"hi":10,"lo":-10},
{"x":1750,"hi":7,"lo":-7},{"x":1752,"hi":5,"lo":-5},{"x":1753,"hi":7,"lo":-7},{"x":1755,"hi":5,"lo":-5},{"x":1757,"hi":3,"lo":-3},{"x":1758,"hi":7,"lo":-7},{"x":1760,"hi":10,"lo":-10},{"x":1762,"hi":15,"lo":-15},{"x":1763,"hi":18,"lo":-18},{"x":1765,"hi":22,"lo":-22},
{"x":1767,"hi":23,"lo":-23},{"x":1768,"hi":24,"lo":-24},{"x":1770,"hi":22,"lo":-22},{"x":1772,"hi":18,"lo":-18},{"x":1773,"hi":13,"lo":-13},{"x":1775,"hi":7,"lo":-7},{"x":1777,"hi":2,"lo":-2},{"x":1778,"hi":5,"lo":-5},{"x":1780,"hi":13,"lo":-13},{"x":1782,"hi":22,"lo":-22},
{"x":1783,"hi":28,"lo":-28},{"x":1785,"hi":29,"lo":-29},{"x":1787,"hi":29,"lo":-29},{"x":1788,"hi":28,"lo":-28},{"x":1790,"hi":27,"lo":-27},{"x":1792,"hi":23,"lo":-23},{"x":1793,"hi":18,"lo":-18},{"x":1795,"hi":13,"lo":-13},{"x":1797,"hi":8,"lo":-8},{"x":1798,"hi":5,"lo":-5},
{"x":1800,"hi":3,"lo":-3},{"x":1802,"hi":3,"lo":-3},{"x":1803,"hi":1,"lo":-1},{"x":1807,"hi":2,"lo":-2},{"x":1808,"hi":1,"lo":-1},{"x":1810,"hi":2,"lo":-2},{"x":1812,"hi":3,"lo":-3},{"x":1813,"hi":5,"lo":-5},{"x":1815,"hi":2,"lo":-2},{"x":1820,"hi":2,"lo":-2},
{"x":1823,"hi":1,"lo":-1},{"x":1825,"hi":3,"lo":-3},{"x":1827,"hi":5,"lo":-5},{"x":1828,"hi":7,"lo":-7},{"x":1830,"hi":7,"lo":-7},{"x":1832,"hi":7,"lo":-7},{"x":1833,"hi":4,"lo":-4},{"x":1837,"hi":3,"lo":-3},{"x":1843,"hi":3,"lo":-3},{"x":1847,"hi":2,"lo":-2},
{"x":1848,"hi":2,"lo":-2},{"x":1850,"hi":3,"lo":-3},{"x":1852,"hi":7,"lo":-7},{"x":1853,"hi":10,"lo":-10},{"x":1855,"hi":12,"lo":-12},{"x":1857,"hi":13,"lo":-13},{"x":1858,"hi":15,"lo":-15},{"x":1860,"hi":16,"lo":-16},{"x":1862,"hi":14,"lo":-14},{"x":1863,"hi":12,"lo":-12},
{"x":1865,"hi":10,"lo":-10},{"x":1867,"hi":8,"lo":-8},{"x":1868,"hi":7,"lo":-7},{"x":1870,"hi":5,"lo":-5},{"x":1872,"hi":3,"lo":-3},{"x":1873,"hi":2,"lo":-2},{"x":1875,"hi":1,"lo":-1},{"x":1877,"hi":2,"lo":-2},{"x":1880,"hi":3,"lo":-3},{"x":1882,"hi":5,"lo":-5},
{"x":1883,"hi":6,"lo":-6},{"x":1885,"hi":7,"lo":-7},{"x":1887,"hi":7,"lo":-7},{"x":1888,"hi":8,"lo":-8},{"x":1890,"hi":8,"lo":-8},{"x":1892,"hi":9,"lo":-9},{"x":1893,"hi":10,"lo":-10},{"x":1895,"hi":11,"lo":-11},{"x":1897,"hi":12,"lo":-12},{"x":1898,"hi":11,"lo":-11},
{"x":1900,"hi":11,"lo":-11},{"x":1902,"hi":10,"lo":-10},{"x":1903,"hi":11,"lo":-11},{"x":1905,"hi":12,"lo":-12},{"x":1907,"hi":11,"lo":-11},{"x":1908,"hi":10,"lo":-10},{"x":1910,"hi":8,"lo":-8},{"x":1912,"hi":6,"lo":-6},{"x":1913,"hi":5,"lo":-5},{"x":1915,"hi":3,"lo":-3},
{"x":1917,"hi":2,"lo":-2},{"x":1918,"hi":1,"lo":-1},{"x":1919,"hi":7,"lo":-7},{"x":1920,"hi":7,"lo":-7}
  ]},
  "mark": {"type": "area", "color": "#5DADE2", "interpolate": "step-after"},
  "encoding": {
    "x": {"field": "x", "type": "quantitative", "scale": {"domain": [0, 1920], "nice": false, "zero": false}, "axis": null},
    "y": {"field": "hi", "type": "quantitative", "scale": {"domain": [-200, 200], "nice": false}, "axis": null},
    "y2": {"field": "lo"}
  }
}
